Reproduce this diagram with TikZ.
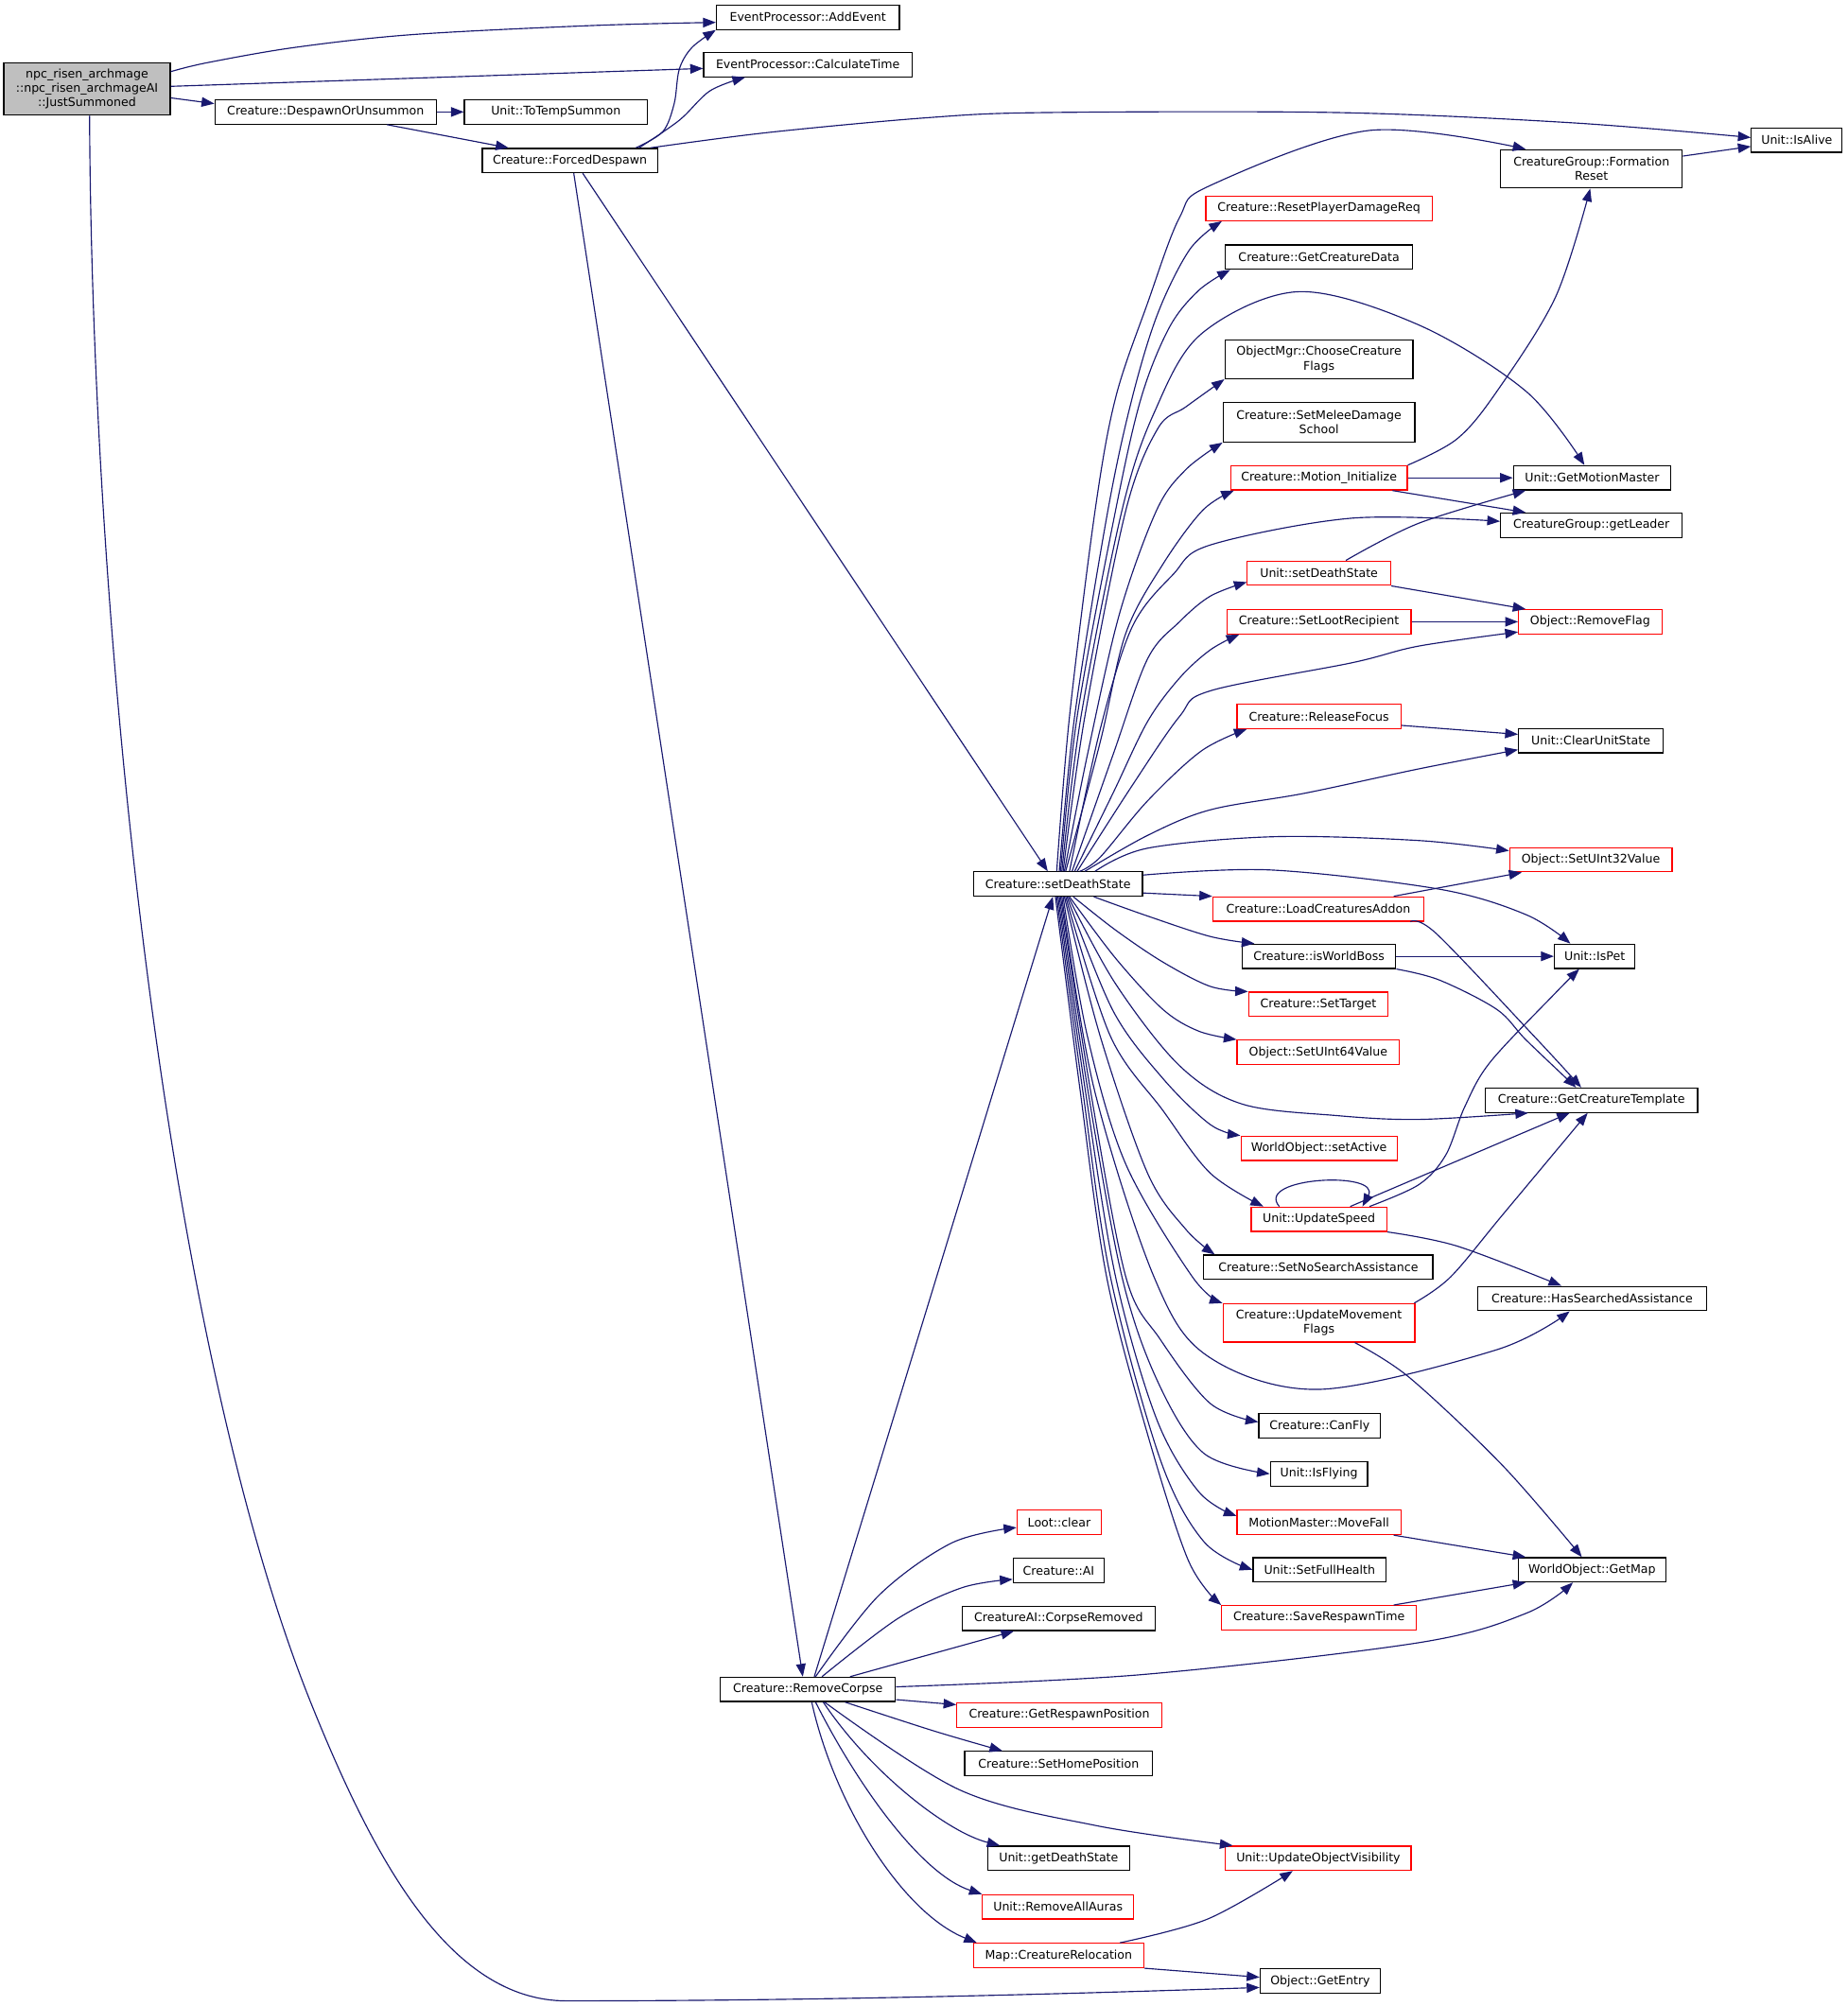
\documentclass[tikz,border=0pt]{standalone}
\usepackage{fontspec}
\setmainfont{DejaVu Sans}
\usetikzlibrary{arrows.meta,calc}
\definecolor{edgec}{HTML}{191970}
\definecolor{grayfill}{HTML}{BFBFBF}
\begin{document}
\begin{tikzpicture}[x=1pt,y=-1pt,
  box/.style={draw=black, line width=0.9pt, fill=white, inner sep=0pt, minimum height=19,
    font=\fontsize{9.3}{11.4}\selectfont, align=center},
  rbox/.style={box, draw=red},
  conn/.style={draw=edgec, line width=0.85pt, -{Triangle[length=10pt,width=7.5pt]}},
  sm/.style={smooth, tension=0.55}]
\useasboundingbox (0,0) rectangle (1444,1568);
\fill[white] (0,0) rectangle (1444,1568);

% ---------- nodes ----------
\node[box, fill=grayfill, minimum width=130, minimum height=41] (npc) at (68,69.5) {npc\_risen\_archmage\\::npc\_risen\_archmageAI\\::JustSummoned};
\node[box, minimum width=143] (addev) at (631.5,13.5) {EventProcessor::AddEvent};
\node[box, minimum width=163] (calct) at (631.5,50.5) {EventProcessor::CalculateTime};
\node[box, minimum width=173] (dou) at (254.5,87.5) {Creature::DespawnOrUnsummon};
\node[box, minimum width=143] (tts) at (434.5,87.5) {Unit::ToTempSummon};
\node[box, minimum width=137] (fd) at (445.5,125.5) {Creature::ForcedDespawn};
\node[box, minimum width=71] (alive) at (1404.5,109.5) {Unit::IsAlive};
\node[box, minimum width=142, minimum height=30] (freset) at (1244,132) {CreatureGroup::Formation\\Reset};
\node[rbox, minimum width=177] (rpdr) at (1031,163) {Creature::ResetPlayerDamageReq};
\node[box, minimum width=146] (gcd) at (1031,201) {Creature::GetCreatureData};
\node[box, minimum width=147, minimum height=30] (occf) at (1031,281) {ObjectMgr::ChooseCreature\\Flags};
\node[box, minimum width=150, minimum height=31] (smds) at (1031,330) {Creature::SetMeleeDamage\\School};
\node[rbox, minimum width=138] (minit) at (1031,373.5) {Creature::Motion\_Initialize};
\node[box, minimum width=123] (gmm) at (1244.5,373.5) {Unit::GetMotionMaster};
\node[box, minimum width=142] (glead) at (1244,410.5) {CreatureGroup::getLeader};
\node[rbox, minimum width=112] (usds) at (1031,448) {Unit::setDeathState};
\node[rbox, minimum width=144] (slr) at (1031,486) {Creature::SetLootRecipient};
\node[rbox, minimum width=112] (rflag) at (1243,486) {Object::RemoveFlag};
\node[rbox, minimum width=128] (rfocus) at (1031,560) {Creature::ReleaseFocus};
\node[box, minimum width=113] (cus) at (1243.5,579) {Unit::ClearUnitState};
\node[rbox, minimum width=127] (su32) at (1243.5,672) {Object::SetUInt32Value};
\node[box, minimum width=132] (csds) at (827,691) {Creature::setDeathState};
\node[rbox, minimum width=165] (lca) at (1030.5,710.5) {Creature::LoadCreaturesAddon};
\node[box, minimum width=120] (iwb) at (1031,747.5) {Creature::isWorldBoss};
\node[box, minimum width=63] (ispet) at (1246.5,747.5) {Unit::IsPet};
\node[rbox, minimum width=109] (starget) at (1030.5,785) {Creature::SetTarget};
\node[rbox, minimum width=127] (su64) at (1030.5,822.5) {Object::SetUInt64Value};
\node[box, minimum width=166] (gct) at (1244,860) {Creature::GetCreatureTemplate};
\node[rbox, minimum width=122] (sactive) at (1031,897.5) {WorldObject::setActive};
\node[rbox, minimum width=106] (uspeed) at (1031,953) {Unit::UpdateSpeed};
\node[box, minimum width=179] (snsa) at (1030.5,990.5) {Creature::SetNoSearchAssistance};
\node[box, minimum width=179] (hsa) at (1244.5,1015) {Creature::HasSearchedAssistance};
\node[rbox, minimum width=150, minimum height=30] (umf) at (1031,1034) {Creature::UpdateMovement\\Flags};
\node[box, minimum width=95] (canfly) at (1031.5,1114.5) {Creature::CanFly};
\node[box, minimum width=76] (isfly) at (1031,1152) {Unit::IsFlying};
\node[rbox, minimum width=128] (movefall) at (1031,1190) {MotionMaster::MoveFall};
\node[box, minimum width=104] (sfh) at (1031.5,1227) {Unit::SetFullHealth};
\node[box, minimum width=115] (getmap) at (1244.5,1227) {WorldObject::GetMap};
\node[rbox, minimum width=152] (srt) at (1031,1264.5) {Creature::SaveRespawnTime};
\node[rbox, minimum width=66] (lclear) at (828,1190) {Loot::clear};
\node[box, minimum width=71] (cai) at (827.5,1227.5) {Creature::AI};
\node[box, minimum width=151] (corpse) at (827.5,1265) {CreatureAI::CorpseRemoved};
\node[box, minimum width=137] (rcorpse) at (631.5,1320.5) {Creature::RemoveCorpse};
\node[rbox, minimum width=160] (grp) at (828,1340.5) {Creature::GetRespawnPosition};
\node[box, minimum width=147] (shp) at (827.5,1378.5) {Creature::SetHomePosition};
\node[box, minimum width=111] (gds) at (827.5,1452.5) {Unit::getDeathState};
\node[rbox, minimum width=145] (uov) at (1030.5,1452.5) {Unit::UpdateObjectVisibility};
\node[rbox, minimum width=118] (raa) at (827,1490.5) {Unit::RemoveAllAuras};
\node[rbox, minimum width=133] (crel) at (827.5,1528.5) {Map::CreatureRelocation};
\node[box, minimum width=94] (gentry) at (1032,1548.5) {Object::GetEntry};

% ---------- edges from npc ----------
\draw[conn] plot[sm] coordinates {($(npc.east)+(0,-13.5)$) (162,49) (231,37) (323,27) (462,20) ($(addev.west)+(0,4)$)};
\draw[conn] ($(npc.east)+(0,-2)$) -- ($(calct.west)+(0,3)$);
\draw[conn] ($(npc.east)+(0,7)$) -- ($(dou.west)+(0,-6.5)$);
\draw[conn] ($(npc.south)+(2,0)$) .. controls (72,500) and (130,1050) .. (243,1331)
   .. controls (291,1450) and (350,1564) .. (443,1564)
   .. controls (650,1564) and (850,1558) .. ($(gentry.west)+(0,5)$);

% ---------- DespawnOrUnsummon / ForcedDespawn ----------
\draw[conn] (dou.east) -- (tts.west);
\draw[conn] ($(dou.south)+(48,0)$) -- ($(fd.north)+(-48,0)$);
\draw[conn] plot[sm] coordinates {($(fd.north)+(51.5,0)$) (518,103) (527,81) (531,54) (541,37) (addev.south west)};
\draw[conn] plot[sm] coordinates {($(fd.north)+(54,0)$) (531,94) (555,71) ($(calct.south)+(-49,0)$)};
\draw[conn] plot[sm] coordinates {($(fd.north east)+(-6,0)$) (601,103.5) (725,92) (816,88) (1046,88) (1229,96) ($(alive.west)+(0,-2)$)};
\draw[conn] ($(fd.south)+(10,0)$) -- ($(csds.north)+(-8,0)$);
\draw[conn] ($(fd.south)+(3,0)$) -- ($(rcorpse.north)+(-4,0)$);
\draw[conn] ($(freset.east)+(0,-10)$) -- ($(alive.west)+(0,5)$);

% ---------- hub: setDeathState upward ----------
\draw[conn] plot[sm] coordinates {($(csds.north)+(-1,0)$) (836,560) (856,399) (872,311) (897,237) (922,170) (946,145) (1070,102) ($(freset.north west)+(20,0)$)};
\draw[conn] plot[sm] coordinates {($(csds.north)+(1,0)$) (840,560) (866,399) (885,311) (905,245) (930,195) ($(rpdr.south west)+(13,0)$)};
\draw[conn] plot[sm] coordinates {($(csds.north)+(2,0)$) (842,560) (872,399) (892,311) (914,256) (937,227) ($(gcd.south west)+(4,0)$)};
\draw[conn] plot[sm] coordinates {($(csds.north)+(3,0)$) (845,560) (877,399) (902,323) (939,261) (1015,228) (1109,254) (1193,306) ($(gmm.north)+(-6,0)$)};
\draw[conn] plot[sm] coordinates {($(csds.north)+(4,0)$) (848,560) (880,399) (905,335) (927,318) (occf.south west)};
\draw[conn] plot[sm] coordinates {($(csds.north)+(5,0)$) (850,590) (875,480) (904,399) (927,367) (smds.south west)};
\draw[conn] plot[sm] coordinates {($(csds.north)+(6,0)$) (860,580) (880,495) (909,441) (940,399) ($(minit.south west)+(3,0)$)};
\draw[conn] plot[sm] coordinates {($(csds.north)+(9,0)$) (860,570) (885,490) (917,449) (946,426) (1057,405) ($(glead.west)+(0,-3)$)};
\draw[conn] plot[sm] coordinates {($(csds.north)+(11,0)$) (870,590) (897,515) (922,486) (946,466) ($(usds.west)+(0,7)$)};
\draw[conn] plot[sm] coordinates {($(csds.north)+(13,0)$) (870,620) (897,564) (922,530) (946,508) ($(slr.south west)+(10,0)$)};
\draw[conn] plot[sm] coordinates {($(csds.north)+(15,0)$) (885,614) (922,560) (946,540) (1057,518) (1109,505) ($(rflag.west)+(0,8)$)};
\draw[conn] plot[sm] coordinates {($(csds.north)+(17,0)$) (860,670) (897,626) (939,587) ($(rfocus.south west)+(8,0)$)};
\draw[conn] plot[sm] coordinates {($(csds.north)+(21,0)$) (897,653) (946,633) (1020,620) (1109,601) ($(cus.west)+(0,7)$)};
\draw[conn] plot[sm] coordinates {($(csds.north)+(29,0)$) (897,663) (996,654) (1109,657) ($(su32.west)+(0,-7)$)};
\draw[conn] plot[sm] coordinates {($(csds.east)+(0,-7)$) (993,680) (1125,695) (1193,715) ($(ispet.north)+(-19,0)$)};

% ---------- hub: setDeathState right / downward ----------
\draw[conn] ($(csds.east)+(0,7)$) -- (lca.north west);
\draw[conn] plot[sm] coordinates {($(csds.south)+(28,0)$) (897,716) (946,732) ($(iwb.north west)+(10,0)$)};
\draw[conn] plot[sm] coordinates {($(csds.south)+(12,0)$) (872,727) (909,752) (946,771) (starget.north west)};
\draw[conn] plot[sm] coordinates {($(csds.south)+(9,0)$) (872,749) (909,789) (937,806) (su64.north west)};
\draw[conn] plot[sm] coordinates {($(csds.south)+(8,0)$) (872,769) (922,833) (971,863) (1045,872) (1109,875) ($(gct.south west)+(34,0)$)};
\draw[conn] plot[sm] coordinates {($(csds.south)+(7,0)$) (870,790) (909,843) (946,879) (sactive.north west)};
\draw[conn] plot[sm] coordinates {($(csds.south)+(6,0)$) (868,810) (909,868) (946,917) ($(uspeed.north west)+(10,0)$)};
\draw[conn] plot[sm] coordinates {($(csds.south)+(5,0)$) (860,810) (897,917) (927,961) ($(snsa.north west)+(9,0)$)};
\draw[conn] plot[sm] coordinates {($(csds.south)+(4,0)$) (850,810) (880,910) (932,998) (umf.north west)};
\draw[conn] plot[sm] coordinates {($(csds.south)+(3,0)$) (855,850) (902,998) (944,1060) (1031,1086) (1170,1055) ($(hsa.south)+(-17.5,0)$)};
\draw[conn] plot[sm] coordinates {($(csds.south)+(2,0)$) (852,850) (880,998) (907,1047) (946,1097) ($(canfly.west)+(0,-3)$)};
\draw[conn] plot[sm] coordinates {($(csds.south)+(1,0)$) (850,850) (877,998) (905,1080) (941,1136) (isfly.west)};
\draw[conn] plot[sm] coordinates {(csds.south) (848,850) (872,998) (904,1109) (937,1166) ($(movefall.west)+(0,-5)$)};
\draw[conn] plot[sm] coordinates {($(csds.south)+(-1,0)$) (846,850) (868,998) (907,1141) (941,1205) (sfh.west)};
\draw[conn] plot[sm] coordinates {($(csds.south)+(-2,0)$) (844,850) (865,998) (897,1121) (929,1220) (srt.north west)};

% ---------- second level ----------
\draw[conn] plot[sm] coordinates {(minit.north east) (1139,343) (1170,306) (1216,232) ($(freset.south)+(-1,0)$)};
\draw[conn] (minit.east) -- (gmm.west);
\draw[conn] ($(minit.south east)+(-12,0)$) -- ($(glead.north west)+(20,0)$);
\draw[conn] plot[sm] coordinates {($(usds.north)+(21,0)$) (1109,409) ($(gmm.south west)+(10,0)$)};
\draw[conn] (usds.south east) -- ($(rflag.north west)+(6,0)$);
\draw[conn] (slr.east) -- (rflag.west);
\draw[conn] ($(rfocus.east)+(0,7)$) -- ($(cus.west)+(0,-5)$);
\draw[conn] ($(lca.north east)+(-24,0)$) -- ($(su32.south west)+(10,0)$);
\draw[conn] plot[sm] coordinates {($(lca.south east)+(-11,0)$) (1123,730) (1202,813) ($(gct.north)+(-8,0)$)};
\draw[conn] (iwb.east) -- (ispet.west);
\draw[conn] plot[sm] coordinates {(iwb.south east) (1125,766) (1170,789) (1193,813) ($(gct.north)+(-12,0)$)};
\draw[conn] ($(uspeed.north)+(-31,0)$) .. controls (980,920) and (1080,915) .. ($(uspeed.north)+(34,0)$);
\draw[conn] ($(uspeed.north east)+(-29,0)$) -- ($(gct.south)+(-17,0)$);
\draw[conn] plot[sm] coordinates {($(uspeed.north east)+(-14,0)$) (1109,926) (1130,903) (1145,865) (1165,830) (1216,776) ($(ispet.south)+(-12,0)$)};
\draw[conn] plot[sm] coordinates {(uspeed.south east) (1139,974) ($(hsa.north)+(-24,0)$)};
\draw[conn] plot[sm] coordinates {($(umf.north east)+(-1,0)$) (1134,998) (1175,949) ($(gct.south)+(-3,0)$)};
\draw[conn] plot[sm] coordinates {($(umf.south)+(28,0)$) (1102,1077) (1175,1146) ($(getmap.north)+(-8,0)$)};
\draw[conn] ($(movefall.south east)+(-6,0)$) -- ($(getmap.north west)+(6,0)$);
\draw[conn] ($(srt.north east)+(-18,0)$) -- ($(getmap.south west)+(6,0)$);

% ---------- RemoveCorpse ----------
\draw[conn] plot[sm] coordinates {($(rcorpse.east)+(0,-2)$) (892,1309) (1109,1284) (1193,1261) ($(getmap.south)+(-15,0)$)};
\draw[conn] ($(rcorpse.north)+(5,0)$) -- ($(csds.south)+(-4,0)$);
\draw[conn] plot[sm] coordinates {($(rcorpse.north)+(6,0)$) (687,1247) (744,1206) ($(lclear.west)+(0,4)$)};
\draw[conn] plot[sm] coordinates {($(rcorpse.north)+(11,0)$) (702,1265) (752,1241) ($(cai.west)+(0,7)$)};
\draw[conn] ($(rcorpse.north)+(33,0)$) -- ($(corpse.south west)+(41,0)$);
\draw[conn] ($(rcorpse.east)+(0,8)$) -- ($(grp.west)+(0,-8)$);
\draw[conn] plot[sm] coordinates {($(rcorpse.south)+(29,0)$) (730,1353) ($(shp.north west)+(30,0)$)};
\draw[conn] plot[sm] coordinates {($(rcorpse.south)+(13,0)$) (750,1399) (857,1427) ($(uov.north west)+(6,0)$)};
\draw[conn] ($(rcorpse.south)+(12,0)$) .. controls (680,1385) and (740,1432) .. ($(gds.north west)+(10,0)$);
\draw[conn] ($(rcorpse.south)+(6,0)$) .. controls (670,1395) and (720,1465) .. (raa.north west);
\draw[conn] ($(rcorpse.south)+(3,0)$) .. controls (652,1410) and (705,1495) .. ($(crel.north west)+(3,0)$);
\draw[conn] plot[sm] coordinates {($(crel.north east)+(-19,0)$) (944,1500) ($(uov.south)+(-20,0)$)};
\draw[conn] (crel.south east) -- ($(gentry.west)+(0,-3)$);
\end{tikzpicture}
\end{document}
